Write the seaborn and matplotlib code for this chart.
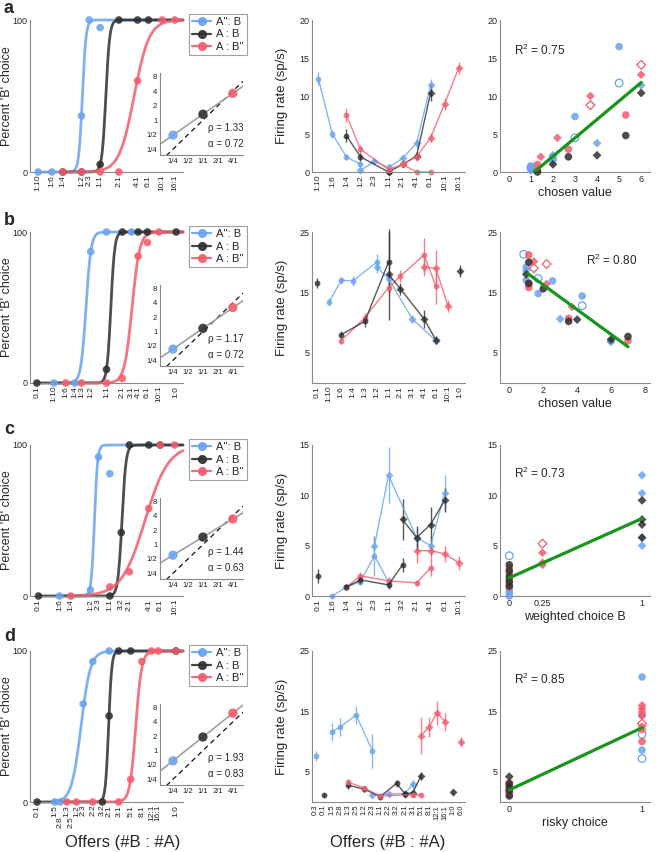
"""Choice behaviour, firing rates and value regressions (panels a-d)."""

import matplotlib

matplotlib.use("Agg")
import matplotlib.pyplot as plt
import numpy as np
import seaborn as sns
from matplotlib.lines import Line2D
from matplotlib.transforms import ScaledTranslation

BLUE, BLACK, RED = "#69a4ee", "#2f2f2f", "#f25d6d"
COLORS = {"blue": BLUE, "black": BLACK, "red": RED}
GREEN = "#17961c"
AXIS = "#8a8a8a"
W, H = 656, 852

# ---------------------------------------------------------------- left column
A_OFFERS = ["1:10", "1:6", "1:4", "1:2", "2:3", "1:1", "2:1", "4:1", "6:1", "10:1", "16:1"]
A_CHOICE = {
    "blue": (["1:10", "1:6", "1:2", "2:3", "1:1"], [0, 0, 37, 100, 95]),
    "black": (["1:4", "1:2", "1:1", "2:1", "4:1", "6:1"], [0, 0, 5, 100, 100, 100]),
    "red": (["1:4", "1:2", "1:1", "2:1", "4:1", "10:1", "16:1"], [0, 0, 0, 0, 60, 100, 100]),
}
A_FIT = {"blue": (-0.66, 15), "black": (0.21, 14), "red": (1.26, 3.6)}
A_RHO, A_ALPHA = 1.33, 0.72
A_INSET = [0.49, 1.33, 3.6]

B_OFFERS = ["0:1", "1:10", "1:6", "1:4", "1:3", "1:2", "1:1", "2:1", "3:1", "4:1", "6:1", "10:1", "1:0"]
B_CHOICE = {
    "blue": (["1:10", "1:4", "1:2", "1:1", "3:1"], [0, 0, 87, 100, 100]),
    "black": (["0:1", "1:1", "2:1", "4:1", "6:1", "1:0"], [0, 9, 100, 100, 100, 100]),
    "red": (["1:6", "1:3", "1:1", "2:1", "4:1", "6:1", "10:1"], [0, 0, 0, 3, 84, 93, 100]),
}
B_FIT = {"blue": (-0.9, 9), "black": (0.19, 12), "red": (1.12, 6)}
B_RHO, B_ALPHA = 1.17, 0.72
B_INSET = [0.43, 1.17, 3.2]

C_OFFERS = ["0:1", "1:6", "1:4", "1:2", "2:3", "1:1", "3:2", "2:1", "4:1", "6:1", "10:1"]
C_CHOICE = {
    "blue": (["1:6", "1:2", "2:3", "1:1"], [0, 4, 92, 81]),
    "black": (["0:1", "1:1", "3:2", "2:1", "4:1", "6:1"], [0, 0, 42, 100, 100, 100]),
    "red": (["1:4", "1:1", "2:1", "4:1", "6:1", "10:1"], [0, 6, 16, 58, 100, 100]),
}
C_FIT = {"blue": (-0.55, 18), "black": (0.43, 14), "red": (1.25, 2.4)}
C_RHO, C_ALPHA = 1.44, 0.63
C_INSET = [0.6, 1.44, 3.45]

D_OFFERS = ["0:1", "1:5", "2:8", "1:3", "2:5", "1:2", "2:3", "2:2", "3:2", "2:1",
            "3:1", "5:1", "8:1", "12:1", "16:1", "1:0"]
D_STAGGER = ["2:8", "2:5"]
D_CHOICE = {
    "blue": (["1:5", "2:8", "2:3", "2:2", "2:1"], [0, 0, 65, 93, 100]),
    "black": (["0:1", "3:2", "2:1", "3:1", "5:1", "1:0"], [0, 0, 57, 100, 100, 100]),
    "red": (["1:3", "1:2", "2:2", "3:1", "5:1", "8:1", "12:1", "16:1", "1:0"],
            [0, 0, 0, 0, 15, 93, 100, 100, 100]),
}
D_FIT = {"blue": (-0.5, 5), "black": (0.67, 15), "red": (1.82, 8)}
D_RHO, D_ALPHA = 1.93, 0.83
D_INSET = [0.61, 1.93, 6.1]

INSET_X = [0.25, 1, 4]

# -------------------------------------------------------------- middle column
# key: colour_marker ; value: (offers, mean rate, sem)
A_RATE_CATS = A_OFFERS
A_RATE = {
    "blue_o": (["1:10", "1:6", "1:4", "1:2"], [12.3, 5.0, 2.0, 1.0], [0.9, 0.5, 0.4, 0.4]),
    "blue_D": (["1:2", "2:3", "1:1", "2:1", "4:1", "6:1"], [0.2, 1.4, 0.6, 1.8, 3.8, 11.4],
               [0.3, 0.3, 0.3, 0.4, 0.6, 0.8]),
    "black_o": (["1:4", "1:2", "1:1"], [4.8, 2.0, 0.0], [0.9, 0.5, 0.2]),
    "black_D": (["1:1", "2:1", "4:1", "6:1"], [0.0, 1.0, 2.1, 10.4], [0.2, 0.4, 0.5, 1.0]),
    "red_o": (["1:4", "1:2", "1:1", "2:1", "4:1", "6:1"], [7.5, 3.0, 0.3, 1.0, 0.0, 0.0],
              [0.9, 0.6, 0.3, 0.4, 0.1, 0.1]),
    "red_D": (["2:1", "4:1", "6:1", "10:1", "16:1"], [1.0, 2.0, 4.5, 9.0, 13.7],
              [0.4, 0.5, 0.6, 0.8, 0.8]),
}

B_RATE_CATS = B_OFFERS
B_RATE = {
    "blue_o": (["1:10", "1:6", "1:4", "1:2"], [13.4, 17.0, 16.9, 20.0], [0.6, 0.6, 0.8, 1.3]),
    "blue_D": (["1:2", "1:1", "3:1", "6:1"], [19.2, 17.3, 10.6, 7.0], [1.0, 0.8, 0.6, 0.5]),
    "red_o": (["1:6", "1:3", "1:1", "2:1", "4:1", "6:1"], [7.0, 10.8, 15.8, 17.7, 21.2, 16.0],
              [0.5, 0.8, 1.3, 1.0, 2.8, 3.0]),
    "red_D": (["4:1", "6:1", "10:1"], [19.2, 19.0, 12.8], [1.5, 3.0, 1.0]),
    "black_o": (["1:6", "1:3", "1:1"], [8.0, 10.2, 20.0], [0.6, 0.9, 5.0]),
    "black_o2": (["0:1"], [16.6], [0.8]),
    "black_D": (["1:1", "2:1", "4:1", "6:1"], [18.0, 15.6, 10.6, 7.1], [7.5, 1.0, 1.5, 0.7]),
    "black_D2": (["1:0"], [18.6], [1.0]),
}

C_RATE_CATS = C_OFFERS
C_RATE = {
    "blue_o": (["1:6", "1:4", "1:2", "2:3", "1:1"], [0.0, 0.9, 1.4, 4.0, 1.4],
               [0.1, 0.3, 0.3, 2.0, 0.4]),
    "blue_D": (["2:3", "1:1", "2:1", "4:1", "6:1"], [5.0, 12.0, 5.8, 5.0, 10.2],
               [1.0, 2.8, 1.0, 1.0, 1.8]),
    "red_o": (["1:4", "1:2", "1:1", "2:1", "4:1"], [0.9, 2.0, 1.5, 1.3, 2.8],
              [0.3, 0.4, 0.4, 0.3, 0.8]),
    "red_D": (["2:1", "4:1", "6:1", "10:1"], [4.5, 4.5, 4.2, 3.3], [1.2, 1.0, 0.8, 0.7]),
    "black_o": (["1:4", "1:2", "1:1", "3:2"], [0.9, 1.6, 1.1, 3.1], [0.3, 0.4, 0.4, 0.7]),
    "black_o2": (["0:1"], [2.0], [0.7]),
    "black_D": (["3:2", "2:1", "4:1", "6:1"], [7.6, 5.8, 7.1, 9.5], [2.0, 1.2, 1.7, 1.2]),
}

D_RATE_CATS = ["0:3", "0:1", "1:5", "2:8", "1:3", "2:5", "1:2", "2:3", "1:1", "2:2", "3:2",
               "2:1", "3:1", "5:1", "8:1", "12:1", "16:1", "1:0", "6:0"]
D_RATE = {
    "blue_o": (["1:5", "2:8", "2:5", "2:3"], [11.6, 12.4, 14.4, 8.5], [1.5, 1.5, 1.5, 2.8]),
    "blue_o2": (["0:3"], [7.6], [0.8]),
    "blue_D": (["2:3", "2:2", "2:1", "3:1"], [1.2, 1.3, 1.4, 2.9], [0.3, 0.3, 0.3, 0.7]),
    "black_o": (["1:3", "1:2", "1:1", "3:2", "2:1"], [2.8, 2.1, 0.9, 3.1, 1.4],
                [0.6, 0.4, 0.3, 0.6, 0.5]),
    "black_o2": (["0:1"], [1.2], [0.3]),
    "black_D": (["2:1", "3:1", "5:1"], [1.4, 1.5, 4.3], [0.5, 0.5, 0.6]),
    "black_D2": (["1:0"], [1.6], [0.4]),
    "red_o": (["1:3", "1:2", "1:1", "3:1", "5:1"], [3.3, 2.3, 1.0, 1.2, 1.2],
              [0.5, 0.4, 0.3, 0.3, 0.3]),
    "red_D": (["5:1", "8:1", "12:1", "16:1"], [11.0, 12.4, 14.8, 13.3], [3.0, 1.7, 2.0, 1.5]),
    "red_D2": (["6:0"], [9.9], [0.8]),
}

# --------------------------------------------------------------- right column
# key: colour_marker (+h = hollow) ; value: (x, firing rate)
A_SCAT = {
    "blue_o": ([1, 1, 2, 2, 3, 5], [0.8, 0.5, 2.0, 1.5, 7.3, 16.5]),
    "blue_oh": ([1, 3, 5], [0.6, 4.5, 11.7]),
    "blue_D": ([1, 2, 2, 4, 6], [0.2, 2.2, 1.8, 3.8, 11.4]),
    "red_o": ([1.3, 1.3, 2.7, 5.3], [1.0, 0.3, 3.0, 7.5]),
    "red_D": ([1.45, 2.2, 3.7, 6], [2.0, 4.5, 10.0, 12.8]),
    "red_Dh": ([3.7, 6], [8.8, 14.1]),
    "black_o": ([1.3, 2.7, 5.3], [0.0, 2.0, 4.8]),
    "black_D": ([2, 4, 6], [1.0, 2.2, 10.4]),
}
A_LINE = (2.43, -2.8, 1.0, 6.0)  # slope, intercept, x from, x to
A_R2 = "0.75"

B_SCAT = {
    "blue_oh": ([0.85, 1.7, 4.3], [21.3, 17.3, 12.8]),
    "blue_o": ([1.0, 1.0, 1.7, 2.55, 4.3, 6.0], [19.2, 17.0, 14.8, 16.9, 14.4, 7.0]),
    "blue_D": ([1.0, 3.0, 6.0], [18.6, 10.6, 6.8]),
    "red_o": ([1.15, 1.15, 1.15, 3.5, 7.0], [21.2, 15.8, 16.3, 10.7, 7.0]),
    "red_D": ([1.45, 2.2, 3.7], [20.1, 16.4, 12.6]),
    "red_Dh": ([1.45, 2.2], [19.0, 19.7]),
    "black_o": ([1.15, 1.15, 2.0, 3.5, 7.0], [20.0, 16.5, 15.6, 10.2, 7.7]),
    "black_D": ([1.0, 4.0, 6.0], [18.0, 10.5, 7.2]),
}
B_LINE = (-2.05, 20.35, 1.1, 7.0)
B_R2 = "0.80"

C_SCAT = {
    "blue_oh": ([0], [4.0]),
    "blue_o": ([0, 0, 0], [0.6, 0.3, 0.0]),
    "blue_D": ([1, 1, 1, 1], [12.0, 10.2, 5.0, 5.8]),
    "red_o": ([0, 0, 0, 0], [2.8, 2.2, 1.6, 0.9]),
    "red_D": ([0.25, 0.25, 0.25], [4.3, 3.3, 3.1]),
    "red_Dh": ([0.25], [5.2]),
    "black_o": ([0, 0, 0, 0, 0], [3.1, 2.5, 1.9, 1.4, 1.0]),
    "black_D": ([1, 1, 1, 1], [9.5, 7.6, 7.1, 5.8]),
}
C_LINE = (5.9, 1.8, 0.0, 1.0)
C_R2 = "0.73"

D_SCAT = {
    "blue_o": ([1, 1, 1], [20.7, 14.3, 8.6]),
    "blue_oh": ([1, 1], [11.2, 7.2]),
    "red_o": ([0, 0, 0, 1, 1, 1], [2.9, 1.8, 1.2, 14.9, 12.0, 10.0]),
    "red_D": ([0, 0, 0, 1, 1, 1, 1], [3.3, 2.1, 1.5, 16.0, 15.5, 14.3, 12.5]),
    "red_Dh": ([1], [13.0]),
    "black_o": ([0, 0, 0], [3.0, 1.9, 1.0]),
    "black_D": ([0, 0], [4.2, 2.5]),
}
D_LINE = (10.3, 2.0, 0.0, 1.0)
D_R2 = "0.85"

COLS = {"left": (30, 153), "mid": (312, 153), "right": (500, 150)}
ROWS = [(20, 172), (232, 383), (445, 596), (651, 802)]


def axes_at(fig, col, row):
    x0, w = COLS[col]
    top, bottom = ROWS[row]
    return fig.add_axes([x0 / W, 1 - bottom / H, w / W, (bottom - top) / H])


def style(ax, labelsize=6.5):
    sns.despine(ax=ax)
    for side in ("left", "bottom"):
        ax.spines[side].set_color(AXIS)
        ax.spines[side].set_linewidth(0.8)
    ax.tick_params(labelsize=labelsize, color=AXIS, labelcolor="#222222",
                   direction="in", length=2.5, width=0.7, pad=2)


def offer_positions(offers):
    ratios = {o: tuple(float(v) for v in o.split(":")) for o in offers}
    finite = [np.log(b / a) for b, a in ratios.values() if a > 0 and b > 0]
    pos = {}
    for o, (b, a) in ratios.items():
        if b == 0:
            pos[o] = min(finite) - 0.75
        elif a == 0:
            pos[o] = max(finite) + 0.75
        else:
            pos[o] = np.log(b / a)
    return pos


def choice_panel(fig, ax, offers, choice, fits, rho, alpha, inset_y, stagger=()):
    pos = offer_positions(offers)
    lo, hi = min(pos.values()) - 0.3, max(pos.values()) + 0.3
    for name in ("blue", "black", "red"):
        offs, pct = choice[name]
        xs = [pos[o] for o in offs]
        c, k = fits[name]
        grid = np.linspace(min(xs), hi, 300)
        sns.lineplot(x=grid, y=100 / (1 + np.exp(-k * (grid - c))), ax=ax,
                     color=COLORS[name], linewidth=2, alpha=0.85, clip_on=False)
        sns.scatterplot(x=xs, y=pct, ax=ax, color=COLORS[name], s=30,
                        edgecolor="none", alpha=0.88, clip_on=False, zorder=3)
    ax.set_xlim(lo, hi)
    ax.set_ylim(0, 100)
    ax.set_xticks([pos[o] for o in offers])
    ax.set_xticklabels(offers, rotation=90, fontsize=6)
    ax.set_yticks([0, 25, 50, 75, 100])
    ax.set_yticklabels(["0", "", "", "", "100"])
    ax.set_ylabel("Percent 'B' choice", fontsize=9)
    ax.yaxis.set_label_coords(-0.11, 0.5)
    style(ax)
    ax.tick_params(axis="x", labelsize=6)
    for lbl in ax.get_xticklabels():
        if lbl.get_text() in stagger:
            lbl.set_transform(lbl.get_transform()
                              + ScaledTranslation(0, -8 / 72, fig.dpi_scale_trans))

    handles = [Line2D([], [], color=COLORS[n], marker="o", ms=5.5, lw=1.6, alpha=0.9)
               for n in ("blue", "black", "red")]
    leg = ax.legend(handles, ["A'': B", "A : B", "A : B''"], loc="upper left",
                    bbox_to_anchor=(1.04, 1.04), borderaxespad=0, fontsize=8,
                    frameon=True, fancybox=False, edgecolor=AXIS, handlelength=1.7,
                    handletextpad=0.4, labelspacing=0.2, borderpad=0.3)
    leg.get_frame().set_linewidth(0.8)

    bb = ax.get_position()
    ins = fig.add_axes([bb.x0 + 130 / W, bb.y0 + 17 / H, 83 / W, bb.height - 70 / H])
    ins.patch.set_alpha(0)
    ins.set_xscale("log", base=2)
    ins.set_yscale("log", base=2)
    xs = np.geomspace(0.137, 6.4, 60)
    ins.plot(xs, xs, color="#111111", ls=(0, (4, 3)), lw=0.9)
    ins.plot(xs, rho * xs ** alpha, color="#a0a0a0", lw=1.2)
    for name, x, y in zip(("blue", "black", "red"), INSET_X, inset_y):
        sns.scatterplot(x=[x], y=[y], ax=ins, color=COLORS[name], s=45,
                        edgecolor="none", alpha=0.9, zorder=3)
    ins.set_xlim(0.137, 6.4)
    ins.set_ylim(0.19, 9.5)
    ins.set_xticks(INSET_X[:1] + [0.5, 1, 2, 4])
    ins.set_xticklabels(["1/4", "1/2", "1/1", "2/1", "4/1"])
    ins.set_yticks([0.25, 0.5, 1, 2, 4, 8])
    ins.set_yticklabels(["1/4", "1/2", "1", "2", "4", "8"])
    ins.minorticks_off()
    style(ins, labelsize=5.5)
    ins.tick_params(length=1.5)
    ins.text(0.58, 0.33, f"\u03c1 = {rho:.2f}", transform=ins.transAxes,
             fontsize=7, va="center")
    ins.text(0.58, 0.14, f"\u03b1 = {alpha:.2f}", transform=ins.transAxes,
             fontsize=7, va="center")


def rate_panel(ax, cats, series, ylim, yticks, label_size=6):
    idx = {c: i for i, c in enumerate(cats)}
    for key, (offs, means, errs) in series.items():
        name, code = key.split("_")
        marker = "o" if code.startswith("o") else "D"
        xs = [idx[o] for o in offs]
        cont = ax.errorbar(xs, means, yerr=errs, color=COLORS[name], marker=marker,
                           ms=4.2 if marker == "o" else 3.6, mec="none", lw=1,
                           elinewidth=1, capsize=0, alpha=0.8,
                           ls="-" if len(xs) > 1 else "none")
        for art in cont.get_children():
            art.set_clip_on(False)
    ax.set_xlim(-0.45, len(cats) - 0.55)
    ax.set_ylim(*ylim)
    ax.set_yticks(yticks)
    ax.set_xticks(range(len(cats)))
    ax.set_xticklabels(cats, rotation=90)
    ax.set_ylabel("Firing rate (sp/s)", fontsize=9.5)
    ax.yaxis.set_label_coords(-0.157, 0.5)
    style(ax)
    ax.tick_params(axis="x", labelsize=label_size)


def scatter_panel(ax, groups, line, r2, r2_xy, xlim, ylim, xticks, yticks, xlabel,
                  xticklabels=None):
    for key, (xs, ys) in groups.items():
        name, code = key.split("_")
        marker = "o" if code.startswith("o") else "D"
        size = 30 if marker == "o" else 20
        if "h" in code:
            ax.scatter(xs, ys, s=size, marker=marker, facecolors="none",
                       edgecolors=COLORS[name], linewidths=0.9, clip_on=False, zorder=3)
        else:
            sns.scatterplot(x=xs, y=ys, ax=ax, marker=marker, color=COLORS[name],
                            s=size, edgecolor="none", alpha=0.85, clip_on=False, zorder=3)
    slope, icpt, x0, x1 = line
    grid = np.array([x0, x1])
    ax.plot(grid, slope * grid + icpt, color=GREEN, lw=2.3, zorder=4)
    ax.text(*r2_xy, f"R$^2$ = {r2}", transform=ax.transAxes, fontsize=8.5, va="center")
    ax.set_xlim(*xlim)
    ax.set_ylim(*ylim)
    ax.set_xticks(xticks)
    if xticklabels:
        ax.set_xticklabels(xticklabels)
    ax.set_yticks(yticks)
    ax.set_xlabel(xlabel, fontsize=9, labelpad=2)
    style(ax)


def main() -> None:
    sns.set_theme(style="white", context="paper")
    plt.rcParams["font.family"] = ["Liberation Sans", "DejaVu Sans"]
    plt.rcParams["mathtext.fontset"] = "custom"
    plt.rcParams["mathtext.rm"] = "Liberation Sans"

    fig = plt.figure(figsize=(W / 100, H / 100), dpi=100)

    left = [(A_OFFERS, A_CHOICE, A_FIT, A_RHO, A_ALPHA, A_INSET, ()),
            (B_OFFERS, B_CHOICE, B_FIT, B_RHO, B_ALPHA, B_INSET, ()),
            (C_OFFERS, C_CHOICE, C_FIT, C_RHO, C_ALPHA, C_INSET, ()),
            (D_OFFERS, D_CHOICE, D_FIT, D_RHO, D_ALPHA, D_INSET, D_STAGGER)]
    for row, args in enumerate(left):
        ax = axes_at(fig, "left", row)
        choice_panel(fig, ax, *args)

    mid = [(A_RATE_CATS, A_RATE, (0, 20), [0, 5, 10, 15, 20], 6),
           (B_RATE_CATS, B_RATE, (0, 25), [5, 15, 25], 6),
           (C_RATE_CATS, C_RATE, (0, 15), [0, 5, 10, 15], 6),
           (D_RATE_CATS, D_RATE, (0, 25), [5, 15, 25], 5.5)]
    for row, args in enumerate(mid):
        ax = axes_at(fig, "mid", row)
        rate_panel(ax, *args)

    right = [
        (A_SCAT, A_LINE, A_R2, (0.09, 0.80), (-0.4, 6.4), (0, 20), range(0, 7),
         [0, 5, 10, 15, 20], "chosen value"),
        (B_SCAT, B_LINE, B_R2, (0.57, 0.81), (-0.55, 8.3), (0, 25), [0, 2, 4, 6, 8],
         [5, 15, 25], "chosen value"),
        (C_SCAT, C_LINE, C_R2, (0.09, 0.81), (-0.07, 1.06), (0, 15), [0, 0.25, 1],
         [0, 5, 10, 15], "weighted choice B", ["0", "0.25", "1"]),
        (D_SCAT, D_LINE, D_R2, (0.09, 0.815), (-0.07, 1.06), (0, 25), [0, 1],
         [5, 15, 25], "risky choice"),
    ]
    for row, args in enumerate(right):
        ax = axes_at(fig, "right", row)
        scatter_panel(ax, *args)

    for letter, base in zip("abcd", (13, 225, 434, 641)):
        fig.text(4 / W, 1 - base / H, letter, fontsize=13, fontweight="bold",
                 va="baseline")
    for xc in (123, 388):
        fig.text(xc / W, 1 - 843 / H, "Offers (#B : #A)", fontsize=12, ha="center",
                 va="center")

    fig.savefig("out.png", dpi=100)
    plt.close(fig)


if __name__ == "__main__":
    main()
